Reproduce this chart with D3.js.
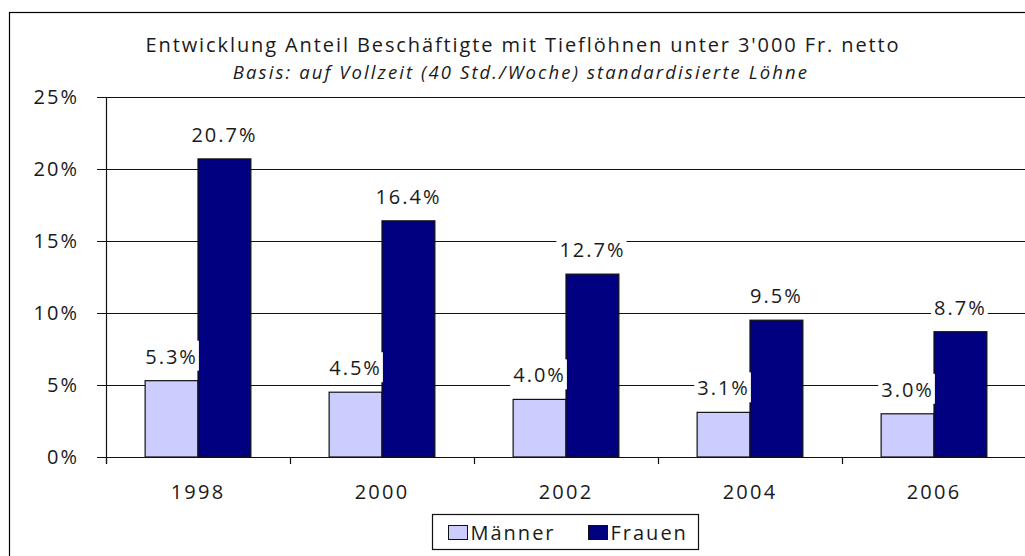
<!DOCTYPE html>
<html>
<head>
<meta charset="utf-8">
<script src="https://cdn.jsdelivr.net/npm/d3@7"></script>
<style>
  body { margin: 0; background: #fff; }
  svg text { font-family: "Open Sans", sans-serif; fill: #1a1a1a; }
</style>
</head>
<body>
<div id="chart"></div>
<script>
const years = ["1998", "2000", "2002", "2004", "2006"];
const seriesNames = ["Männer", "Frauen"];
const maenner = [5.3, 4.5, 4.0, 3.1, 3.0];
const frauen = [20.7, 16.4, 12.7, 9.5, 8.7];
const yTicks = [0, 5, 10, 15, 20, 25];
const colors = ["#ccccff", "#000080"];

const titleText = "Entwicklung Anteil Beschäftigte mit Tieflöhnen unter 3'000 Fr. netto";
const subtitleText = "Basis: auf Vollzeit (40 Std./Woche) standardisierte Löhne";

function tiefloehneChart() {
  const W = 1025, H = 556;
  const margin = { top: 97, right: -1, bottom: 99, left: 106 };
  const width = W - margin.left - margin.right;
  const height = H - margin.top - margin.bottom;

  const svg = d3.select("#chart")
    .append("svg")
    .attr("width", W)
    .attr("height", H);

  // outer frame (runs off the right and bottom edges)
  svg.append("rect")
    .attr("x", 9.5).attr("y", 12.5)
    .attr("width", W + 20).attr("height", H + 20)
    .attr("fill", "#fff")
    .attr("stroke", "#000")
    .attr("stroke-width", 1.2);

  svg.append("text")
    .attr("x", 523).attr("y", 52)
    .attr("text-anchor", "middle")
    .style("font-size", "20px")
    .style("letter-spacing", "1.9px")
    .text(titleText);

  svg.append("text")
    .attr("x", 521).attr("y", 79)
    .attr("text-anchor", "middle")
    .style("font-size", "18.5px")
    .style("font-style", "italic")
    .style("letter-spacing", "2.1px")
    .text(subtitleText);

  const g = svg.append("g")
    .attr("transform", `translate(${margin.left},${margin.top})`);

  const x = d3.scaleBand()
    .domain(years)
    .range([0, width])
    .padding(0);

  const xSub = d3.scaleBand()
    .domain(seriesNames)
    .range([0, x.bandwidth()])
    .paddingInner(0)
    .paddingOuter(0.74);

  const y = d3.scaleLinear()
    .domain([0, 25])
    .range([height, 0]);

  // y axis with gridlines
  const yAxis = g.append("g")
    .call(d3.axisLeft(y)
      .tickValues(yTicks)
      .tickFormat(d => d + "%")
      .tickSize(-width)
      .tickPadding(27)
      .tickSizeOuter(0));
  yAxis.select(".domain").remove();
  yAxis.selectAll(".tick line")
    .attr("x1", -9)
    .attr("stroke", "#111")
    .attr("stroke-width", 1.2);
  yAxis.selectAll(".tick text")
    .style("font-size", "20px")
    .style("letter-spacing", "2px")
    .attr("fill", "#1a1a1a");

  // y axis line
  g.append("line")
    .attr("x1", 0.5).attr("x2", 0.5)
    .attr("y1", 0).attr("y2", height + 7)
    .attr("stroke", "#111")
    .attr("stroke-width", 1.2);

  // bars
  const data = years.map((yr, i) => ({ year: yr, values: [maenner[i], frauen[i]] }));

  const groups = g.append("g")
    .selectAll("g")
    .data(data)
    .join("g")
    .attr("transform", d => `translate(${x(d.year)},0)`);

  groups.selectAll("rect")
    .data(d => seriesNames.map((key, j) => ({ key: key, value: d.values[j], color: colors[j] })))
    .join("rect")
    .attr("x", d => xSub(d.key))
    .attr("y", d => y(d.value))
    .attr("width", xSub.bandwidth())
    .attr("height", d => height - y(d.value))
    .attr("fill", d => d.color)
    .attr("stroke", "#111")
    .attr("stroke-width", 1.2);

  // x axis
  const xAxis = g.append("g")
    .attr("transform", `translate(0,${height})`)
    .call(d3.axisBottom(x).tickSize(0).tickPadding(28).tickSizeOuter(0));
  xAxis.select(".domain")
    .attr("stroke", "#111")
    .attr("stroke-width", 1.2);
  xAxis.selectAll(".tick text")
    .style("font-size", "20px")
    .style("letter-spacing", "2.2px")
    .attr("fill", "#1a1a1a");

  // category boundary ticks
  g.append("g")
    .selectAll("line")
    .data(years.concat(["end"]))
    .join("line")
    .attr("x1", (d, i) => i * x.step() + 0.5)
    .attr("x2", (d, i) => i * x.step() + 0.5)
    .attr("y1", height)
    .attr("y2", height + 7)
    .attr("stroke", "#111")
    .attr("stroke-width", 1.2);

  // value labels with white boxes
  const labels = groups.selectAll("g.lbl")
    .data(d => seriesNames.map((key, j) => ({ key: key, value: d.values[j] })))
    .join("g")
    .attr("class", "lbl");

  labels.append("rect").attr("fill", "#fff");
  labels.append("text")
    .attr("x", d => xSub(d.key) + xSub.bandwidth() / 2)
    .attr("y", d => y(d.value) - 17)
    .attr("text-anchor", "middle")
    .style("font-size", "20px")
    .style("letter-spacing", "2px")
    .text(d => d.value.toFixed(1) + "%");

  labels.each(function () {
    const gl = d3.select(this);
    const bb = gl.select("text").node().getBBox();
    gl.select("rect")
      .attr("x", bb.x - 3)
      .attr("y", bb.y - 2)
      .attr("width", bb.width + 4)
      .attr("height", bb.height + 3);
  });

  // legend
  const legend = svg.append("g")
    .attr("transform", "translate(432.5,514.5)");
  legend.append("rect")
    .attr("width", 266).attr("height", 35)
    .attr("fill", "#fff")
    .attr("stroke", "#111")
    .attr("stroke-width", 1.2);

  const items = legend.selectAll("g")
    .data(seriesNames)
    .join("g")
    .attr("transform", (d, i) => `translate(${16 + i * 140},11)`);
  items.append("rect")
    .attr("width", 19).attr("height", 14)
    .attr("fill", (d, i) => colors[i])
    .attr("stroke", "#111")
    .attr("stroke-width", 1);
  items.append("text")
    .attr("x", 22).attr("y", 14)
    .style("font-size", "20px")
    .style("letter-spacing", "2px")
    .text(d => d);
}

tiefloehneChart();
</script>
</body>
</html>
